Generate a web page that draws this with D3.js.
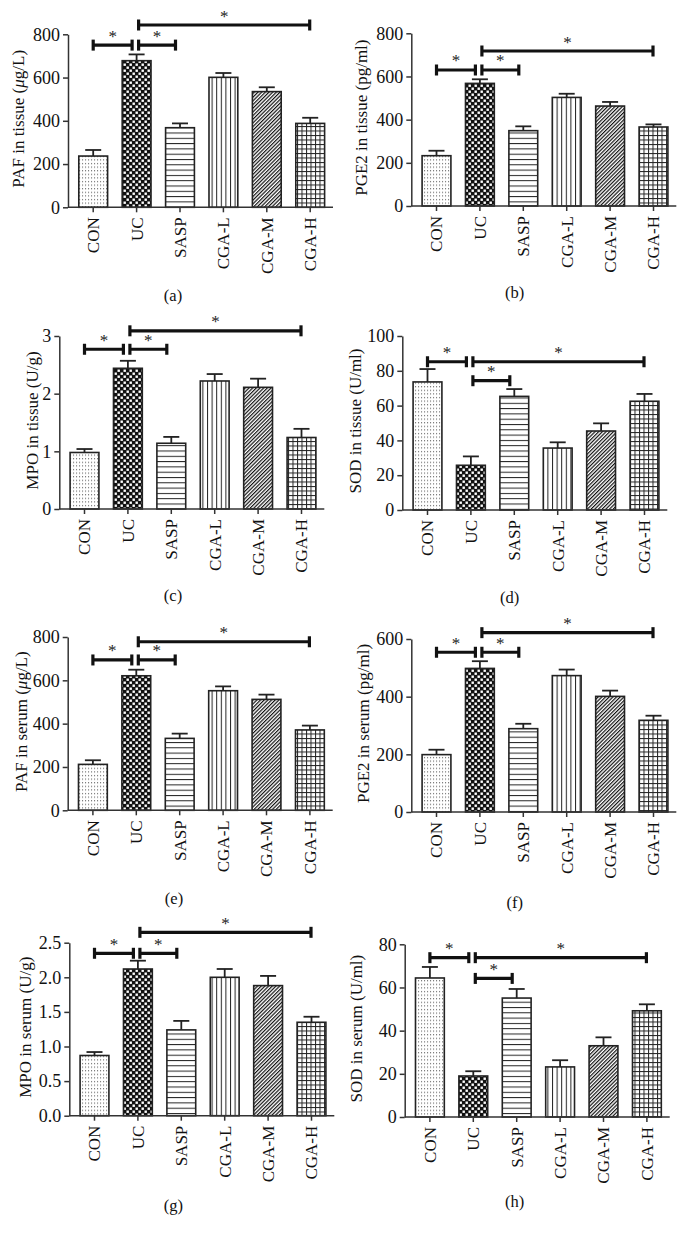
<!DOCTYPE html>
<html><head><meta charset="utf-8">
<script src="https://cdn.jsdelivr.net/npm/d3@7"></script>
<style>body{margin:0;background:#fff}svg{display:block}</style>
</head><body>
<script>
const categories = ["CON","UC","SASP","CGA-L","CGA-M","CGA-H"];

const pafTissue = [237, 678, 368, 601, 535, 388];
const pafTissueSem = [28, 29, 20, 20, 20, 26];
const pge2Tissue = [233, 568, 349, 503, 463, 366];
const pge2TissueSem = [23, 19, 20, 17, 19, 12];
const mpoTissue = [0.98, 2.44, 1.14, 2.22, 2.11, 1.24];
const mpoTissueSem = [0.06, 0.13, 0.11, 0.12, 0.15, 0.15];
const sodTissue = [73.6, 25.7, 65.3, 35.6, 45.4, 62.5];
const sodTissueSem = [7.4, 5.1, 4.2, 3.3, 4.4, 4.2];
const pafSerum = [212, 621, 332, 552, 512, 371];
const pafSerumSem = [19, 28, 22, 20, 22, 20];
const pge2Serum = [199, 498, 289, 473, 401, 318];
const pge2SerumSem = [17, 25, 17, 21, 20, 16];
const mpoSerum = [0.87, 2.12, 1.24, 2.00, 1.88, 1.35];
const mpoSerumSem = [0.05, 0.12, 0.13, 0.12, 0.14, 0.08];
const sodSerum = [64.4, 19.0, 55.1, 23.2, 33.0, 49.2];
const sodSerumSem = [5.1, 2.2, 4.2, 3.1, 3.9, 3.0];

const ticks800 = [0, 200, 400, 600, 800];
const ticks600 = [0, 200, 400, 600];
const ticks3 = [0, 1, 2, 3];
const ticks100 = [0, 20, 40, 60, 80, 100];
const ticks25 = [0, 0.5, 1.0, 1.5, 2.0, 2.5];
const ticks80 = [0, 20, 40, 60, 80];

// significance comparisons: [from index, to index, level in data units]
const sigA = [[0,1,750],[1,2,750],[1,5,843]];
const sigB = [[0,1,630],[1,2,630],[1,5,718]];
const sigC = [[0,1,2.77],[1,2,2.77],[1,5,3.09]];
const sigD = [[0,1,85.2],[1,2,74.3],[1,5,85.2]];
const sigE = [[0,1,694],[1,2,694],[1,5,778]];
const sigF = [[0,1,554],[1,2,554],[1,5,622]];
const sigG = [[0,1,2.347],[1,2,2.347],[1,5,2.65]];
const sigH = [[0,1,73.8],[1,2,64.2],[1,5,73.8]];

const titles = [
  ["PAF in tissue (", "μ", "g/L)"],
  ["PGE2 in tissue (pg/ml)"],
  ["MPO in tissue (U/g)"],
  ["SOD in tissue (U/ml)"],
  ["PAF in serum (", "μ", "g/L)"],
  ["PGE2 in serum (pg/ml)"],
  ["MPO in serum (U/g)"],
  ["SOD in serum (U/ml)"]
];
const panelLabels = ["(a)","(b)","(c)","(d)","(e)","(f)","(g)","(h)"];

const panels = [
  {v: pafTissue, e: pafTissueSem, ticks: ticks800, sig: sigA, fmt: d3.format("d")},
  {v: pge2Tissue, e: pge2TissueSem, ticks: ticks800, sig: sigB, fmt: d3.format("d")},
  {v: mpoTissue, e: mpoTissueSem, ticks: ticks3, sig: sigC, fmt: d3.format("d")},
  {v: sodTissue, e: sodTissueSem, ticks: ticks100, sig: sigD, fmt: d3.format("d")},
  {v: pafSerum, e: pafSerumSem, ticks: ticks800, sig: sigE, fmt: d3.format("d")},
  {v: pge2Serum, e: pge2SerumSem, ticks: ticks600, sig: sigF, fmt: d3.format("d")},
  {v: mpoSerum, e: mpoSerumSem, ticks: ticks25, sig: sigG, fmt: d3.format(".1f")},
  {v: sodSerum, e: sodSerumSem, ticks: ticks80, sig: sigH, fmt: d3.format("d")}
];

// layout (pixels)
const layout = [
  {ax: 68,    y0: 207.3, yTop: 34.3, tx: 18,    lx: 173,   ly: 295},
  {ax: 411.3, y0: 206,   yTop: 33.3, tx: 361.3, lx: 514.7, ly: 292.7},
  {ax: 59.3,  y0: 509,   yTop: 336,  tx: 32,    lx: 173,   ly: 595},
  {ax: 402.3, y0: 510,   yTop: 336,  tx: 354.7, lx: 509.7, ly: 597.3},
  {ax: 67.7,  y0: 810.3, yTop: 637,  tx: 20.7,  lx: 174,   ly: 898.3},
  {ax: 411.3, y0: 812,   yTop: 639,  tx: 363,   lx: 514.7, ly: 902.7},
  {ax: 69.3,  y0: 1115.7,yTop: 942.7,tx: 25,    lx: 173.3, ly: 1205},
  {ax: 404.7, y0: 1117,  yTop: 944.3,tx: 356.3, lx: 514.7, ly: 1201.7}
];

const FONT = "'Liberation Serif','Times New Roman',serif";
const svg = d3.select("body").append("svg").attr("width", 686).attr("height", 1237);
const defs = svg.append("defs");

// patterns
function pat(id, w, h, build, transform) {
  const p = defs.append("pattern").attr("id", id).attr("patternUnits", "userSpaceOnUse")
    .attr("width", w).attr("height", h);
  if (transform) p.attr("patternTransform", transform);
  p.append("rect").attr("width", w).attr("height", h).attr("fill", "#fff");
  build(p);
}
pat("p0", 3, 3.6, p => p.append("rect").attr("x", 1).attr("y", 1).attr("width", 1.1).attr("height", 1.1).attr("fill", "#666"));
pat("p1", 6, 6, p => {
  p.append("rect").attr("width", 6).attr("height", 6).attr("fill", "#111");
  p.append("rect").attr("x", 0.5).attr("y", 0.5).attr("width", 2.4).attr("height", 2.4).attr("fill", "#fff");
  p.append("rect").attr("x", 3.5).attr("y", 3.5).attr("width", 2.4).attr("height", 2.4).attr("fill", "#fff");
});
pat("p2", 10, 5.3, p => p.append("line").attr("x1", 0).attr("x2", 10).attr("y1", 0.5).attr("y2", 0.5).attr("stroke", "#222").attr("stroke-width", 1));
pat("p3", 4.6, 10, p => p.append("line").attr("x1", 0.5).attr("x2", 0.5).attr("y1", 0).attr("y2", 10).attr("stroke", "#222").attr("stroke-width", 1));
pat("p4", 2.6, 10, p => p.append("line").attr("x1", 0.6).attr("x2", 0.6).attr("y1", 0).attr("y2", 10).attr("stroke", "#111").attr("stroke-width", 1.2), "rotate(45)");
pat("p5", 4.5, 4.5, p => {
  p.append("line").attr("x1", 0).attr("x2", 4.5).attr("y1", 0.5).attr("y2", 0.5).attr("stroke", "#222").attr("stroke-width", 1);
  p.append("line").attr("x1", 0.5).attr("x2", 0.5).attr("y1", 0).attr("y2", 4.5).attr("stroke", "#222").attr("stroke-width", 1);
});

panels.forEach((P, k) => {
  const L = layout[k];
  const g = svg.append("g");
  const x = d3.scaleBand().domain(categories)
    .range([L.ax + 3.5, L.ax + 3.5 + 260.4]).paddingInner(0.336).paddingOuter(0.168);
  const y = d3.scaleLinear().domain([0, P.ticks[P.ticks.length - 1]]).range([L.y0, L.yTop]);
  const cx = i => x(categories[i]) + x.bandwidth() / 2;

  // bars
  g.selectAll("rect.bar").data(P.v).join("rect").attr("class", "bar")
    .attr("x", (d, i) => x(categories[i])).attr("width", x.bandwidth())
    .attr("y", d => y(d)).attr("height", d => y(0) - y(d))
    .attr("fill", (d, i) => `url(#p${i})`).attr("stroke", "#222").attr("stroke-width", 1.6);

  // error bars (upper)
  const eb = g.selectAll("g.err").data(P.v).join("g").attr("class", "err");
  eb.append("line").attr("x1", (d, i) => cx(i)).attr("x2", (d, i) => cx(i))
    .attr("y1", d => y(d)).attr("y2", (d, i) => y(d + P.e[i]))
    .attr("stroke", "#222").attr("stroke-width", 1.8);
  eb.append("line").attr("x1", (d, i) => cx(i) - 8).attr("x2", (d, i) => cx(i) + 8)
    .attr("y1", (d, i) => y(d + P.e[i])).attr("y2", (d, i) => y(d + P.e[i]))
    .attr("stroke", "#222").attr("stroke-width", 1.8);

  // y axis
  const ya = g.append("g").attr("transform", `translate(${L.ax},0)`)
    .call(d3.axisLeft(y).tickValues(P.ticks).tickFormat(P.fmt).tickSize(5).tickSizeOuter(0).tickPadding(3));
  ya.selectAll("path,line").attr("stroke", "#333").attr("stroke-width", 1.5);
  ya.selectAll("text").attr("font-family", FONT).attr("font-size", 18).attr("fill", "#111");

  // x axis
  const xa = g.append("g").attr("transform", `translate(0,${L.y0})`)
    .call(d3.axisBottom(x).tickSize(5).tickSizeOuter(0));
  xa.select(".domain").remove();
  xa.selectAll("line").attr("stroke", "#333").attr("stroke-width", 1.5);
  xa.selectAll("text").attr("font-family", FONT).attr("font-size", 17).attr("fill", "#111")
    .attr("transform", "rotate(-90)").attr("x", -10).attr("y", 0).attr("dy", "0.35em")
    .attr("text-anchor", "end");
  g.append("line").attr("x1", L.ax).attr("x2", L.ax + 265).attr("y1", L.y0).attr("y2", L.y0)
    .attr("stroke", "#333").attr("stroke-width", 1.5);

  // axis title
  const ty = (L.y0 + L.yTop) / 2 - 2;
  const t = g.append("text").attr("transform", `translate(${L.tx},${ty}) rotate(-90)`)
    .attr("text-anchor", "middle").attr("dy", "0.35em")
    .attr("font-family", FONT).attr("font-size", 17).attr("fill", "#111");
  titles[k].forEach((s, j) => {
    const ts = t.append("tspan").text(s);
    if (s === "μ") ts.attr("font-style", "italic");
  });

  // significance bars
  P.sig.forEach(([a, b, lev]) => {
    const x1 = cx(a) + (a > 0 ? 2 : 0);
    const x2 = cx(b) - (b < 5 ? 4.5 : 0.5);
    const yy = y(lev);
    g.append("line").attr("x1", x1).attr("x2", x2).attr("y1", yy).attr("y2", yy)
      .attr("stroke", "#111").attr("stroke-width", 3.2);
    [x1, x2].forEach(xx => g.append("line").attr("x1", xx).attr("x2", xx)
      .attr("y1", yy - 5.5).attr("y2", yy + 5.5).attr("stroke", "#111").attr("stroke-width", 3.2));
    g.append("text").attr("x", (x1 + x2) / 2).attr("y", yy - 3.5).attr("text-anchor", "middle")
      .attr("font-family", FONT).attr("font-size", 17).attr("fill", "#222").text("*");
  });

  // panel label
  g.append("text").attr("x", L.lx).attr("y", L.ly).attr("dy", "0.35em").attr("text-anchor", "middle")
    .attr("font-family", FONT).attr("font-size", 16.5).attr("fill", "#111").text(panelLabels[k]);
});
</script>
</body></html>
